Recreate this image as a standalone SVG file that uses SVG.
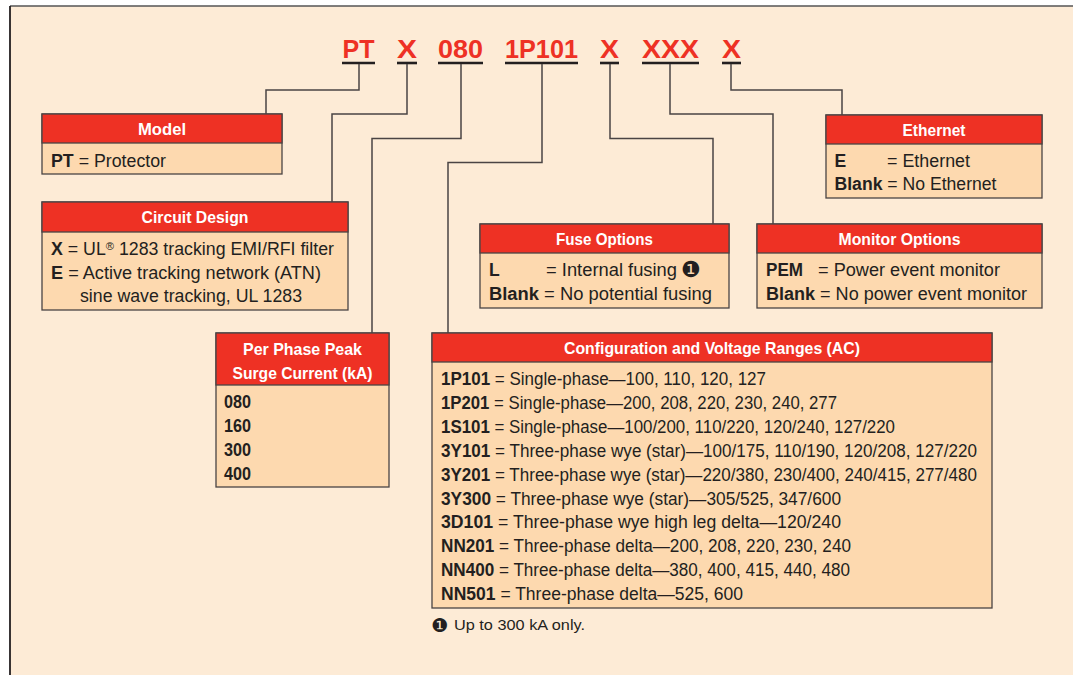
<svg xmlns="http://www.w3.org/2000/svg" width="1073" height="675" viewBox="0 0 1073 675">
<style>
.t{font-family:"Liberation Sans Narrow","Liberation Sans",Arial,sans-serif;fill:#231F20;font-size:17.5px}
.b{font-weight:bold}
.code{font-family:"Liberation Sans Narrow","Liberation Sans",Arial,sans-serif;font-weight:bold;font-size:26.5px;fill:#EE3124;text-anchor:middle}
.hd{font-family:"Liberation Sans Narrow","Liberation Sans",Arial,sans-serif;font-weight:bold;font-size:17px;fill:#FFFFFF;text-anchor:middle}
.hbox{fill:#EE3124;stroke:#4A4444;stroke-width:1.3}
.bbox{fill:#FDD9AF;stroke:#4A4444;stroke-width:1.3}
.ul{stroke:#231F20;stroke-width:2.6}
.con{fill:none;stroke:#4A4444;stroke-width:1.5}
.sym{font-family:"DejaVu Sans",sans-serif;fill:#231F20}
</style>
<rect x="10" y="6" width="1063" height="669" fill="#FDEBD6"/>
<line x1="10" y1="6" x2="1073" y2="6" stroke="#555" stroke-width="1.6"/>
<line x1="10" y1="6" x2="10" y2="675" stroke="#231F20" stroke-width="1.8"/>

<g id="code">
<text class="code" x="358.5" y="58" textLength="32" lengthAdjust="spacingAndGlyphs">PT</text>
<text class="code" x="407" y="58" textLength="20" lengthAdjust="spacingAndGlyphs">X</text>
<text class="code" x="460.5" y="58" textLength="45" lengthAdjust="spacingAndGlyphs">080</text>
<text class="code" x="541.5" y="58" textLength="73" lengthAdjust="spacingAndGlyphs">1P101</text>
<text class="code" x="609.5" y="58" textLength="19" lengthAdjust="spacingAndGlyphs">X</text>
<text class="code" x="670.5" y="58" textLength="57" lengthAdjust="spacingAndGlyphs">XXX</text>
<text class="code" x="731.5" y="58" textLength="19" lengthAdjust="spacingAndGlyphs">X</text>
<line class="ul" x1="342" y1="63" x2="375" y2="63"/>
<line class="ul" x1="397" y1="63" x2="417" y2="63"/>
<line class="ul" x1="438" y1="63" x2="483" y2="63"/>
<line class="ul" x1="505" y1="63" x2="578" y2="63"/>
<line class="ul" x1="600" y1="63" x2="619" y2="63"/>
<line class="ul" x1="642" y1="63" x2="699" y2="63"/>
<line class="ul" x1="722" y1="63" x2="741" y2="63"/>
</g>

<g id="connectors">
<path class="con" d="M359,64 V90 H266 V114"/>
<path class="con" d="M407,64 V114 H332 V202"/>
<path class="con" d="M461,64 V138.5 H372 V333"/>
<path class="con" d="M542,64 V162.5 H448 V333"/>
<path class="con" d="M610,64 V138.5 H713 V224"/>
<path class="con" d="M670,64 V114 H773 V224"/>
<path class="con" d="M731,64 V90 H842 V115"/>
</g>

<g id="model">
<rect class="bbox" x="42" y="114" width="240" height="60"/>
<rect class="hbox" x="42" y="114" width="240" height="29"/>
<text class="hd" x="162" y="135" textLength="48" lengthAdjust="spacingAndGlyphs">Model</text>
<text class="t" x="51" y="166.5" textLength="115" lengthAdjust="spacingAndGlyphs"><tspan class="b">PT</tspan> = Protector</text>
</g>

<g id="circuit-design">
<rect class="bbox" x="42" y="202" width="306" height="108"/>
<rect class="hbox" x="42" y="202" width="306" height="30"/>
<text class="hd" x="195" y="222.5" textLength="107" lengthAdjust="spacingAndGlyphs">Circuit Design</text>
<text class="t" x="51" y="255" textLength="283" lengthAdjust="spacingAndGlyphs"><tspan class="b">X</tspan> = UL<tspan font-size="11" dy="-5">®</tspan><tspan dy="5"> 1283 tracking EMI/RFI filter</tspan></text>
<text class="t" x="51" y="279" textLength="270" lengthAdjust="spacingAndGlyphs"><tspan class="b">E</tspan> = Active tracking network (ATN)</text>
<text class="t" x="80" y="301.5" textLength="222" lengthAdjust="spacingAndGlyphs">sine wave tracking, UL 1283</text>
</g>

<g id="fuse-options">
<rect class="bbox" x="480" y="224" width="249" height="84"/>
<rect class="hbox" x="480" y="224" width="249" height="29"/>
<text class="hd" x="604.5" y="245" textLength="97" lengthAdjust="spacingAndGlyphs">Fuse Options</text>
<text class="t b" x="489" y="275.5">L</text>
<text class="t" x="546" y="275.5" textLength="131" lengthAdjust="spacingAndGlyphs">= Internal fusing</text>
<text class="sym" x="681" y="277" font-size="22">❶</text>
<text class="t" x="489" y="300" textLength="223" lengthAdjust="spacingAndGlyphs"><tspan class="b">Blank</tspan> = No potential fusing</text>
</g>

<g id="monitor-options">
<rect class="bbox" x="757" y="224" width="285" height="84"/>
<rect class="hbox" x="757" y="224" width="285" height="29"/>
<text class="hd" x="899.5" y="245" textLength="122" lengthAdjust="spacingAndGlyphs">Monitor Options</text>
<text class="t b" x="766" y="275.5" textLength="37" lengthAdjust="spacingAndGlyphs">PEM</text>
<text class="t" x="818" y="275.5" textLength="182" lengthAdjust="spacingAndGlyphs">= Power event monitor</text>
<text class="t" x="766" y="300" textLength="261" lengthAdjust="spacingAndGlyphs"><tspan class="b">Blank</tspan> = No power event monitor</text>
</g>

<g id="ethernet">
<rect class="bbox" x="826" y="115" width="216" height="83"/>
<rect class="hbox" x="826" y="115" width="216" height="29"/>
<text class="hd" x="934" y="136" textLength="63" lengthAdjust="spacingAndGlyphs">Ethernet</text>
<text class="t b" x="834.5" y="166.5">E</text>
<text class="t" x="887" y="166.5" textLength="83" lengthAdjust="spacingAndGlyphs">= Ethernet</text>
<text class="t" x="834.5" y="190" textLength="162" lengthAdjust="spacingAndGlyphs"><tspan class="b">Blank</tspan> = No Ethernet</text>
</g>

<g id="surge-current">
<rect class="bbox" x="216" y="333" width="173" height="154"/>
<rect class="hbox" x="216" y="333" width="173" height="52"/>
<text class="hd" x="302.5" y="355" textLength="119" lengthAdjust="spacingAndGlyphs">Per Phase Peak</text>
<text class="hd" x="302.5" y="378.5" textLength="140" lengthAdjust="spacingAndGlyphs">Surge Current (kA)</text>
<text class="t b" x="224" y="407.5" textLength="27" lengthAdjust="spacingAndGlyphs">080</text>
<text class="t b" x="224" y="431.5" textLength="27" lengthAdjust="spacingAndGlyphs">160</text>
<text class="t b" x="224" y="455.5" textLength="27" lengthAdjust="spacingAndGlyphs">300</text>
<text class="t b" x="224" y="479.5" textLength="27" lengthAdjust="spacingAndGlyphs">400</text>
</g>

<g id="configuration">
<rect class="bbox" x="432" y="333" width="560" height="275"/>
<rect class="hbox" x="432" y="333" width="560" height="29"/>
<text class="hd" x="712" y="354" textLength="296" lengthAdjust="spacingAndGlyphs">Configuration and Voltage Ranges (AC)</text>
<text class="t" x="441" y="385" textLength="325" lengthAdjust="spacingAndGlyphs"><tspan class="b">1P101</tspan> = Single-phase—100, 110, 120, 127</text>
<text class="t" x="441" y="408.9" textLength="396" lengthAdjust="spacingAndGlyphs"><tspan class="b">1P201</tspan> = Single-phase—200, 208, 220, 230, 240, 277</text>
<text class="t" x="441" y="432.8" textLength="454" lengthAdjust="spacingAndGlyphs"><tspan class="b">1S101</tspan> = Single-phase—100/200, 110/220, 120/240, 127/220</text>
<text class="t" x="441" y="456.7" textLength="536" lengthAdjust="spacingAndGlyphs"><tspan class="b">3Y101</tspan> = Three-phase wye (star)—100/175, 110/190, 120/208, 127/220</text>
<text class="t" x="441" y="480.6" textLength="536" lengthAdjust="spacingAndGlyphs"><tspan class="b">3Y201</tspan> = Three-phase wye (star)—220/380, 230/400, 240/415, 277/480</text>
<text class="t" x="441" y="504.5" textLength="400" lengthAdjust="spacingAndGlyphs"><tspan class="b">3Y300</tspan> = Three-phase wye (star)—305/525, 347/600</text>
<text class="t" x="441" y="528.4" textLength="400" lengthAdjust="spacingAndGlyphs"><tspan class="b">3D101</tspan> = Three-phase wye high leg delta—120/240</text>
<text class="t" x="441" y="552.3" textLength="410" lengthAdjust="spacingAndGlyphs"><tspan class="b">NN201</tspan> = Three-phase delta—200, 208, 220, 230, 240</text>
<text class="t" x="441" y="576.2" textLength="409" lengthAdjust="spacingAndGlyphs"><tspan class="b">NN400</tspan> = Three-phase delta—380, 400, 415, 440, 480</text>
<text class="t" x="441" y="600.1" textLength="302" lengthAdjust="spacingAndGlyphs"><tspan class="b">NN501</tspan> = Three-phase delta—525, 600</text>
</g>

<g id="footnote">
<text class="sym" x="431" y="631.5" font-size="19">❶</text>
<text class="t" x="454" y="630" textLength="131" lengthAdjust="spacingAndGlyphs" style="font-size:14.5px">Up to 300 kA only.</text>
</g>
</svg>
